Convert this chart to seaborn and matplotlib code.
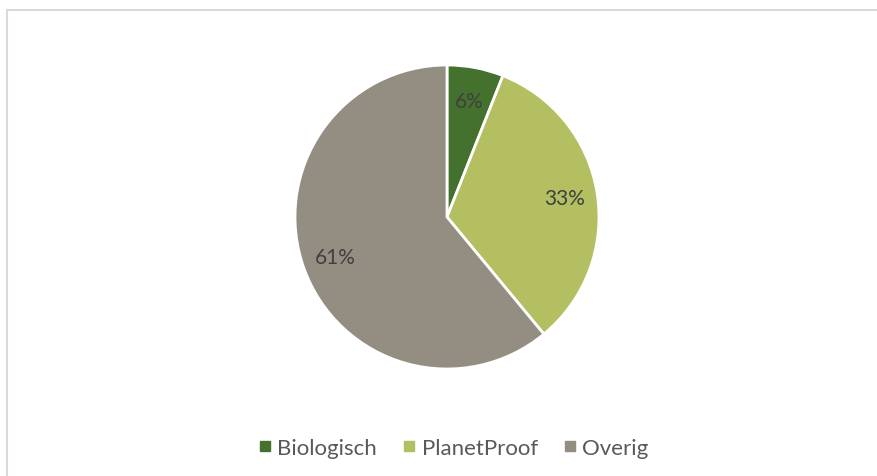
import matplotlib
matplotlib.use("Agg")
import matplotlib.pyplot as plt
import seaborn as sns
from matplotlib.patches import Rectangle
from matplotlib.lines import Line2D

labels = ["Biologisch", "PlanetProof", "Overig"]
shares = [6, 33, 61]
colors = ["#44712E", "#B4BF62", "#948E82"]

sns.set_style("white")
plt.rcParams["font.family"] = ["Lato", "DejaVu Sans"]

fig = plt.figure(figsize=(8.77, 4.77), dpi=100)
W, H = 877, 477

# chart frame (only top and left edges visible in the crop)
fig.patches.append(Rectangle((6.5 / W, -0.1), 1.2, (H - 10.5) / H + 0.1,
                             transform=fig.transFigure, fill=False,
                             edgecolor="#D9D9D9", linewidth=1.5))

r = 152
cx, cy = 447, H - 218
ax = fig.add_axes([(cx - r) / W, (cy - r) / H, 2 * r / W, 2 * r / H])
wedges, texts, autotexts = ax.pie(
    shares, colors=colors, startangle=90, counterclock=False,
    autopct="%1.0f%%", pctdistance=0.78,
    wedgeprops=dict(edgecolor="white", linewidth=2),
    textprops=dict(color="#404040", fontsize=15),
)
ax.set_xlim(-1, 1)
ax.set_ylim(-1, 1)
ax.set_aspect("equal")
ax.axis("off")

handles = [Line2D([], [], marker="s", linestyle="", markersize=6.5,
                  markerfacecolor=c, markeredgecolor=c) for c in colors]
fig.legend(handles, labels, loc="center", bbox_to_anchor=(454 / W, 1 - 449 / H),
           ncol=3, frameon=False, fontsize=16, labelcolor="#595959",
           handletextpad=0.3, columnspacing=1.2, handlelength=0.5)

fig.savefig("out.png", dpi=100, facecolor="white")
